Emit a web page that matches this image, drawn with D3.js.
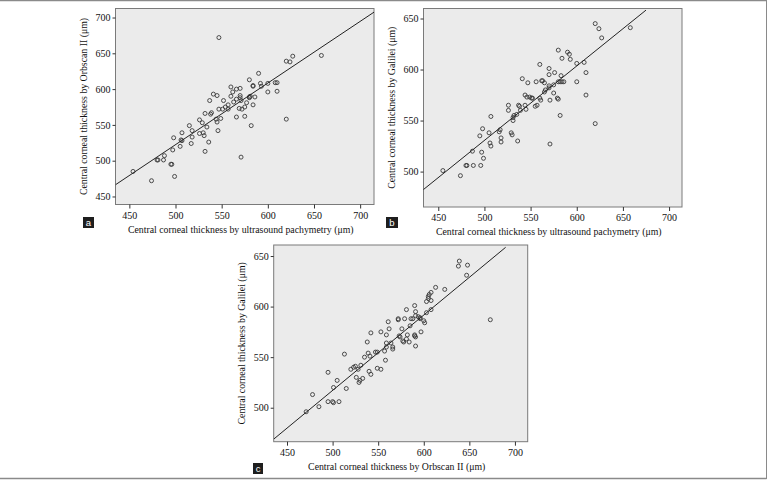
<!DOCTYPE html>
<html><head><meta charset="utf-8">
<script src="https://cdn.jsdelivr.net/npm/d3@7"></script>
<style>body{margin:0;background:#fff}svg{display:block}</style>
</head><body>
<script>
// ---- data (µm) ----
const ultrasoundA = [454,474,499,480,481,487,488,495,496,497,498,505,506,507,507,515,517,518,518,526,526,529,530,531,532,532,534,536,537,538,539,541,544,545,545,546,547,547,549,551,552,554,557,557,560,560,562,563,566,566,566,569,570,570,570,571,571,572,575,575,577,580,580,581,580,582,584,584,584,586,590,592,593,600,600,608,610,610,620,620,624,627,658];
const orbscanA    = [485,472,478,501,501,501,507,495,495,515,532,520,529,528,539,549,524,542,533,557,538,553,539,535,513,566,547,526,584,565,567,593,558,554,591,542,672,572,559,572,584,575,578,572,603,590,596,582,600,561,586,573,601,591,588,584,505,572,562,575,581,613,589,590,588,549,605,578,604,589,622,608,604,608,596,609,609,597,558,639,638,646,647];

const ultrasoundB = [455,474,480,481,488,487,496,495,497,498,499,505,506,507,507,516,517,518,518,526,526,529,530,531,531,532,535,536,537,538,539,541,544,546,544,545,547,549,551,552,556,555,557,560,560,561,562,563,565,565,566,570,570,570,570,571,571,575,575,576,579,580,580,580,582,583,582,584,586,584,590,592,593,600,600,608,610,610,620,620,624,627,658];
const galileiB    = [501,496,506,506,506,520,506,535,519,542,513,538,528,525,554,539,541,533,529,565,560,538,536,550,553,555,556,530,565,564,560,591,575,573,565,561,587,573,572,572,588,564,565,605,572,570,589,589,587,578,580,601,595,582,584,570,527,585,577,597,572,571,588,619,555,594,588,588,588,611,617,615,610,606,588,607,597,575,547,645,640,631,641];

const orbscanC    = [471,478,485,495,495,500,501,507,501,505,513,515,520,523,525,526,529,530,528,531,533,535,538,539,540,542,542,541,547,549,549,553,553,557,558,559,559,559,561,562,564,566,566,572,572,573,574,576,577,578,579,581,581,582,584,585,586,588,590,591,590,590,591,591,591,594,596,596,597,600,601,603,603,605,605,606,608,608,608,613,623,638,639,648,647,673];
const galileiC    = [496,513,501,535,506,506,505,506,520,527,553,519,538,540,541,530,525,527,538,542,529,550,565,554,536,533,574,551,555,555,539,538,575,556,547,572,564,560,585,578,564,560,558,588,587,571,570,578,566,565,588,597,568,572,565,581,588,588,601,595,571,572,570,561,591,590,589,588,575,586,584,594,605,610,608,612,606,614,597,619,617,640,645,641,631,587];

// fitted lines: [x1, y1, x2, y2]
const fitA = [435, 466.4, 715, 707.5];
const fitB = [433, 481.7, 675, 658.2];
const fitC = [435.5, 469, 689.8, 658.6];

const xTicks  = [450, 500, 550, 600, 650, 700];
const yTicksA = [450, 500, 550, 600, 650, 700];
const yTicksB = [500, 550, 600, 650];
const yTicksC = [500, 550, 600, 650];

const panelLetters = ["a", "b", "c"];
const xTitles = ["Central corneal thickness by ultrasound pachymetry (\u03bcm)",
                 "Central corneal thickness by ultrasound pachymetry (\u03bcm)",
                 "Central corneal thickness by Orbscan II (\u03bcm)"];
const yTitles = ["Central corneal thickness by Orbscan II (\u03bcm)",
                 "Central corneal thickness by Galilei (\u03bcm)",
                 "Central corneal thickness by Galilei (\u03bcm)"];

// ---- layout ----
const W = 768, H = 480;
const FONT = "'Liberation Serif','Times New Roman',serif";
const panels = [
  {xs: ultrasoundA, ys: orbscanA, fit: fitA, yTicks: yTicksA,
   xd: [435, 715], yd: [438.8, 712.6], l: 115.5, r: 374, t: 8.5, b: 204.5,
   box: [83, 217, 11, 11]},
  {xs: ultrasoundB, ys: galileiB, fit: fitB, yTicks: yTicksB,
   xd: [434, 714], yd: [465.3, 659.8], l: 423.5, r: 682, t: 8.5, b: 207,
   box: [386, 217, 12, 11]},
  {xs: orbscanC, ys: galileiC, fit: fitC, yTicks: yTicksC,
   xd: [435.4, 714], yd: [466.4, 660.9], l: 273.7, r: 527.7, t: 245, b: 441.7,
   box: [253, 463, 10, 11]}
];

const svg = d3.select("body").append("svg").attr("width", W).attr("height", H)
  .style("font-family", FONT);
svg.append("rect").attr("width", W).attr("height", H).attr("fill", "#fff");

// outer frame lines
svg.append("line").attr("x1", 0).attr("x2", 766.5).attr("y1", 0.5).attr("y2", 0.5).attr("stroke", "#8a8a8a").attr("stroke-width", 1.5);
svg.append("line").attr("x1", 0).attr("x2", 766.5).attr("y1", 478.5).attr("y2", 478.5).attr("stroke", "#8a8a8a").attr("stroke-width", 1.5);
svg.append("line").attr("x1", 766.5).attr("x2", 766.5).attr("y1", 0).attr("y2", 479).attr("stroke", "#8a8a8a").attr("stroke-width", 1);

panels.forEach((p, i) => {
  const x = d3.scaleLinear().domain(p.xd).range([p.l, p.r]);
  const y = d3.scaleLinear().domain(p.yd).range([p.b, p.t]);
  const g = svg.append("g");

  const clipId = "clip" + i;
  g.append("clipPath").attr("id", clipId).append("rect")
    .attr("x", p.l).attr("y", p.t).attr("width", p.r - p.l).attr("height", p.b - p.t);

  g.append("rect").attr("x", p.l).attr("y", p.t).attr("width", p.r - p.l).attr("height", p.b - p.t)
    .attr("fill", "#ebebeb").attr("stroke", "#7a7a7a").attr("stroke-width", 1);

  const xAxis = d3.axisBottom(x).tickValues(xTicks).tickSize(4).tickPadding(3).tickFormat(d3.format("d"));
  const gx = g.append("g").attr("transform", `translate(0,${p.b})`).call(xAxis);
  gx.select(".domain").remove();
  gx.selectAll(".tick line").attr("stroke", "#333");
  gx.selectAll("text").attr("font-family", FONT).attr("font-size", 10).attr("fill", "#111");

  const yAxis = d3.axisLeft(y).tickValues(p.yTicks).tickSize(3).tickPadding(2).tickFormat(d3.format("d"));
  const gy = g.append("g").attr("transform", `translate(${p.l},0)`).call(yAxis);
  gy.select(".domain").remove();
  gy.selectAll(".tick line").attr("stroke", "#333");
  gy.selectAll("text").attr("font-family", FONT).attr("font-size", 10).attr("fill", "#111");

  const pts = p.xs.map((v, k) => [v, p.ys[k]]);
  g.append("g").selectAll("circle").data(pts).join("circle")
    .attr("cx", d => x(d[0])).attr("cy", d => y(d[1])).attr("r", 2)
    .attr("fill", "none").attr("stroke", "#3a3a3a").attr("stroke-width", 0.9);

  g.append("line").attr("clip-path", `url(#${clipId})`)
    .attr("x1", x(p.fit[0])).attr("y1", y(p.fit[1]))
    .attr("x2", x(p.fit[2])).attr("y2", y(p.fit[3]))
    .attr("stroke", "#222").attr("stroke-width", 1);

  g.append("text").attr("x", (p.l + p.r) / 2 - 4).attr("y", p.b + 28)
    .attr("text-anchor", "middle").attr("font-size", 9.8).attr("fill", "#111").text(xTitles[i]);

  g.append("text").attr("transform", `translate(${p.l - 32},${(p.t + p.b) / 2}) rotate(-90)`)
    .attr("text-anchor", "middle").attr("dy", "0.35em").attr("font-size", 9.8).attr("fill", "#111").text(yTitles[i]);

  g.append("rect").attr("x", p.box[0]).attr("y", p.box[1]).attr("width", p.box[2]).attr("height", p.box[3]).attr("fill", "#1e1e1e");
  g.append("text").attr("x", p.box[0] + p.box[2] / 2).attr("y", p.box[1] + p.box[3] / 2)
    .attr("dy", "0.36em").attr("text-anchor", "middle").attr("font-family", "'Liberation Sans',Arial,sans-serif")
    .attr("font-size", 9.5).attr("fill", "#fff").text(panelLetters[i]);
});
</script>
</body></html>
